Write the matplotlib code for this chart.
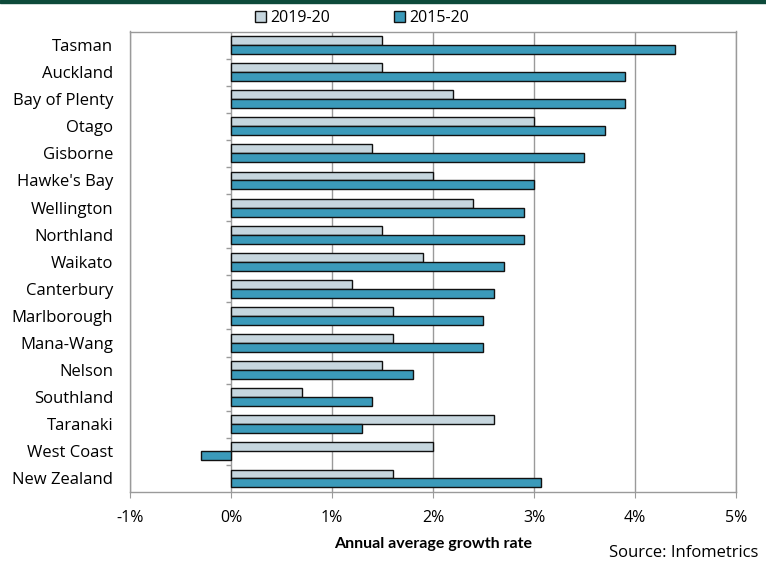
import numpy as np
import matplotlib.pyplot as plt
from matplotlib.patches import Rectangle

plt.rcParams['font.family'] = ['Open Sans', 'DejaVu Sans']

# growth rates by region, % per year
regions = ['Tasman', 'Auckland', 'Bay of Plenty', 'Otago', 'Gisborne', "Hawke's Bay",
           'Wellington', 'Northland', 'Waikato', 'Canterbury', 'Marlborough',
           'Mana-Wang', 'Nelson', 'Southland', 'Taranaki', 'West Coast', 'New Zealand']
growth_2019_20 = [1.5, 1.5, 2.2, 3.0, 1.4, 2.0, 2.4, 1.5, 1.9, 1.2, 1.6, 1.6, 1.5, 0.7, 2.6, 2.0, 1.6]
growth_2015_20 = [4.4, 3.9, 3.9, 3.7, 3.5, 3.0, 2.9, 2.9, 2.7, 2.6, 2.5, 2.5, 1.8, 1.4, 1.3, -0.3, 3.07]
x_ticks = [-1, 0, 1, 2, 3, 4, 5]

light = '#c6d6de'
dark = '#3b9aba'
grey = '#9a9a9a'

fig = plt.figure(figsize=(7.66, 5.65), dpi=100)
ax = fig.add_axes([130 / 766, 73 / 565, 606 / 766, 460.5 / 565])

y = np.arange(len(regions))
h = 0.33
ax.barh(y - h / 2, growth_2019_20, height=h, color=light, edgecolor='#111111',
        linewidth=1.0, label='2019-20', zorder=3)
ax.barh(y + h / 2, growth_2015_20, height=h, color=dark, edgecolor='#111111',
        linewidth=1.0, label='2015-20', zorder=3)

ax.set_xlim(-1, 5)
ax.set_ylim(len(regions) - 0.5, -0.5)
ax.set_xticks(x_ticks)
ax.set_xticklabels([f'{t}%' for t in x_ticks], fontsize=11.5)
ax.set_yticks(y)
ax.set_yticklabels(regions, fontsize=12)
ax.tick_params(axis='y', length=0, pad=12)
ax.tick_params(axis='x', length=4, color=grey, pad=9)

# gridlines and zero axis
for t in x_ticks:
    ax.axvline(t, color=grey, linewidth=1.0, zorder=1)
ax.hlines(np.arange(len(regions) - 1) + 0.5, -0.045, 0, color=grey, linewidth=1.0, zorder=2)
for s in ax.spines.values():
    s.set_color(grey)
    s.set_linewidth(1.0)

ax.set_xlabel('Annual average growth rate', fontsize=11.5, fontweight='bold',
              family='Lato', labelpad=8)

fig.legend(loc='upper center', bbox_to_anchor=(362 / 766, 1 + 4 / 565), ncol=2,
           frameon=False, fontsize=11.5, handlelength=0.7, handleheight=0.7,
           handletextpad=0.25, columnspacing=4.0)

fig.text(758 / 766, 12 / 565, 'Source: Infometrics', ha='right', va='center', fontsize=12)

# dark band along the top edge
fig.patches.append(Rectangle((0, 1 - 2.5 / 565), 1, 2.5 / 565, transform=fig.transFigure,
                             color='#0d4a3a', zorder=5))

fig.savefig('out.png', dpi=100)
